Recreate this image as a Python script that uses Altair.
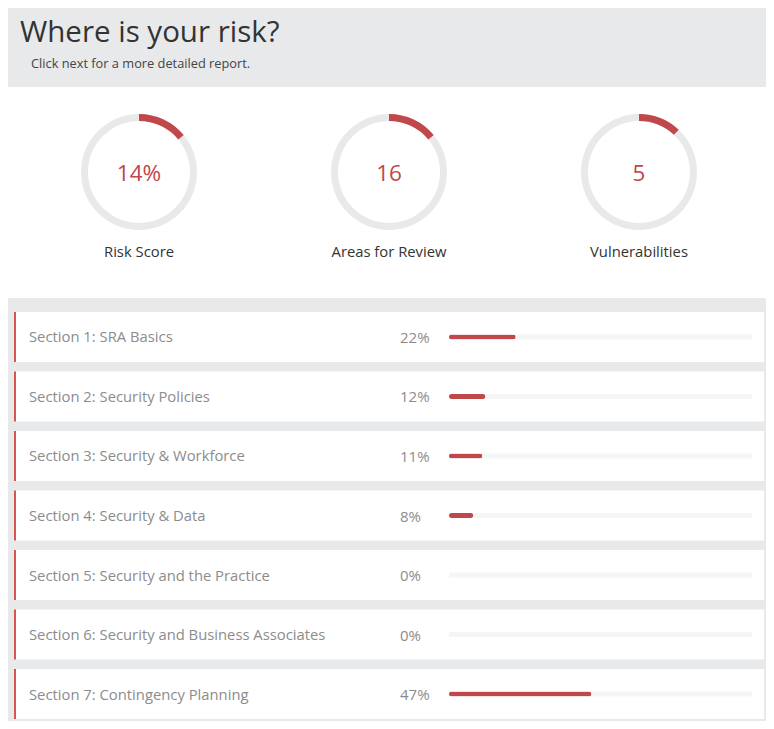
import math
import altair as alt
import pandas as pd

# ---- data ----
title_text = ["Where is your risk?"]
subtitle_text = ["Click next for a more detailed report."]

gauge_names = ["Risk Score", "Areas for Review", "Vulnerabilities"]
gauge_labels = ["14%", "16", "5"]
gauge_fill = [14, 14, 12]  # share of the ring that is filled (%)

section_names = [
    "Section 1: SRA Basics",
    "Section 2: Security Policies",
    "Section 3: Security & Workforce",
    "Section 4: Security & Data",
    "Section 5: Security and the Practice",
    "Section 6: Security and Business Associates",
    "Section 7: Contingency Planning",
]
section_pct = [22, 12, 11, 8, 0, 0, 47]

# ---- styles ----
FONT = "Open Sans"
RED = "#c0474a"
BORDER_RED = "#d9534f"
GRAY_BG = "#e8e9eb"
RING = "#e8e9eb"
TRACK = "#f4f5f5"
W = 758

# ---- header ----
hdr_title = alt.Chart(pd.DataFrame({"t": title_text})).mark_text(
    align="left", baseline="alphabetic", fontSize=29.5, font=FONT, color="#333333"
).encode(text="t:N", x=alt.value(12), y=alt.value(34))
hdr_sub = alt.Chart(pd.DataFrame({"t": subtitle_text})).mark_text(
    align="left", baseline="alphabetic", fontSize=12.8, font=FONT, color="#444444"
).encode(text="t:N", x=alt.value(23), y=alt.value(60))
header = alt.layer(hdr_title, hdr_sub).properties(width=W, height=79)

# ---- gauges ----
gdf = pd.DataFrame({"name": gauge_names, "label": gauge_labels,
                    "fill": gauge_fill, "zero": [0] * len(gauge_names)})
GX = alt.X("name:N", sort=gauge_names,
           scale=alt.Scale(type="point", domain=gauge_names, range=[131, 631], padding=0),
           axis=None)
ring = alt.Chart(gdf).mark_arc(radius=58, radius2=51, theta=0, theta2=2 * math.pi,
                               color=RING).encode(x=GX, y=alt.value(85))
arc = alt.Chart(gdf).mark_arc(radius=58, radius2=51, color=RED).encode(
    x=GX, y=alt.value(85),
    theta=alt.Theta("zero:Q", stack=None,
                    scale=alt.Scale(domain=[0, 100], range=[0, 2 * math.pi])),
    theta2="fill:Q",
)
center = alt.Chart(gdf).mark_text(fontSize=22.5, font=FONT, color=RED,
                                  baseline="alphabetic").encode(
    x=GX, y=alt.value(94), text="label:N")
glabel = alt.Chart(gdf).mark_text(fontSize=14.8, font=FONT, color="#333333",
                                  baseline="alphabetic").encode(
    x=GX, y=alt.value(170), text="name:N")
gauges = alt.layer(ring, arc, center, glabel).properties(
    width=W, height=211, view=alt.ViewBackground(fill="white", stroke=None))

# ---- sections ----
sdf = pd.DataFrame({"section": section_names, "pct": section_pct})
sdf["pct_label"] = [f"{p}%" for p in section_pct]
SY = alt.Y("section:N", sort=section_names,
           scale=alt.Scale(domain=section_names, range=[14, 421],
                           paddingInner=0.1597, paddingOuter=0),
           axis=None)
base = alt.Chart(sdf)
box = base.mark_bar(color="white").encode(y=SY, x=alt.value(6), x2=alt.value(756))
border = base.mark_bar(color=BORDER_RED).encode(y=SY, x=alt.value(6), x2=alt.value(8))
name_txt = base.mark_text(align="left", fontSize=14.8, font=FONT, color="#8c8c8c",
                          dy=1.5).encode(y=SY, x=alt.value(21), text="section:N")
pct_txt = base.mark_text(align="left", fontSize=15, font=FONT, color="#8c8c8c",
                         dy=1).encode(y=SY, x=alt.value(392), text="pct_label:N")
track = base.mark_bar(height=5, color=TRACK).encode(
    y=SY, x=alt.value(441), x2=alt.value(744))
value_bar = base.mark_bar(height=5, cornerRadius=2.5, color=RED).encode(
    y=SY,
    x=alt.X("pct:Q", scale=alt.Scale(domain=[0, 100], range=[441, 744]), axis=None),
)
sections = alt.layer(box, border, name_txt, pct_txt, track, value_bar).properties(
    width=W, height=423)

chart = alt.vconcat(header, gauges, sections, spacing=0).properties(
    background=GRAY_BG, padding=0
).configure_view(stroke=None)

chart.save("out.html", embed_options={"renderer": "svg", "actions": False})
